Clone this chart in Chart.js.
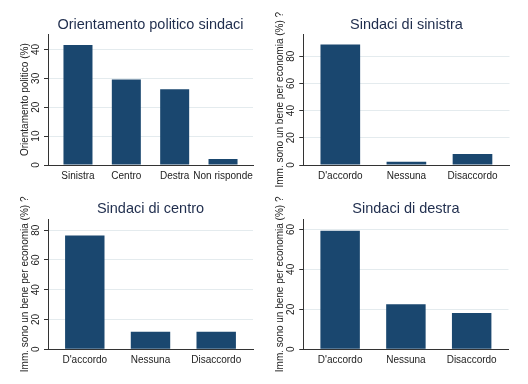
<!DOCTYPE html>
<html>
<head>
<meta charset="utf-8">
<script src="https://cdn.jsdelivr.net/npm/chart.js@4/dist/chart.umd.min.js"></script>
<style>
  html, body { margin: 0; padding: 0; background: #fff; }
  #wrap { position: relative; width: 528px; height: 384px; }
  .cell { position: absolute; width: 264px; height: 192px; }
</style>
</head>
<body>
<div id="wrap">
  <div class="cell" style="left:0;top:0"><canvas id="c1" width="264" height="192"></canvas></div>
  <div class="cell" style="left:264px;top:0"><canvas id="c2" width="264" height="192"></canvas></div>
  <div class="cell" style="left:0;top:192px"><canvas id="c3" width="264" height="192"></canvas></div>
  <div class="cell" style="left:264px;top:192px"><canvas id="c4" width="264" height="192"></canvas></div>
</div>
<script>
// data (percent)
const orientLabels = ["Sinistra", "Centro", "Destra", "Non risponde"];
const orientValues = [41.5, 29.6, 26.2, 2.1];
const orientTicks = [0, 10, 20, 30, 40];

const opinionLabels = ["D'accordo", "Nessuna", "Disaccordo"];
const sinistraValues = [88.5, 2.3, 8.0];
const centroValues = [76.4, 11.8, 11.8];
const destraValues = [59.3, 22.5, 18.2];
const opinionTicks = [0, 20, 40, 60, 80];
const destraTicks = [0, 20, 40, 60];

const immTitle = "Imm. sono un bene per economia (%) ?";

const navy = "#1a476f";
const textColor = "#222";
const axisColor = "#333";
const gridColor = "#e4ebee";
const family = "'Liberation Sans', Arial, sans-serif";

function drawPanel(id, title, yTitle, labels, values, ticks, yMax, box) {
  const n = labels.length;
  const pad = n === 4 ? 0.62 : 0.56;
  new Chart(id, {
    type: "bar",
    data: {
      datasets: [{
        data: values.map((v, i) => ({ x: i, y: v })),
        backgroundColor: navy,
        borderWidth: 0,
        barPercentage: 0.6,
        categoryPercentage: 1
      }]
    },
    options: {
      responsive: false,
      animation: false,
      devicePixelRatio: 1,
      layout: { padding: { left: 0, right: box.right, top: 0, bottom: 0 } },
      plugins: {
        legend: { display: false },
        tooltip: { enabled: false },
        title: {
          display: true,
          text: title,
          fullSize: false,
          color: "#1f2d4d",
          font: { family: family, size: 14.5, weight: "normal" },
          padding: { top: box.titleTop, bottom: box.titleBottom }
        }
      },
      scales: {
        x: {
          type: "linear",
          offset: false,
          min: -pad,
          max: n - 1 + pad,
          afterBuildTicks: s => { s.ticks = labels.map((l, i) => ({ value: i })); },
          afterFit: s => { s.height = box.xHeight; },
          ticks: {
            callback: v => labels[v],
            autoSkip: false,
            maxRotation: 0,
            color: textColor,
            font: { family: family, size: 10 },
            padding: 5
          },
          grid: { drawOnChartArea: false, drawTicks: false },
          border: { color: axisColor }
        },
        y: {
          min: 0,
          max: yMax,
          afterBuildTicks: s => { s.ticks = ticks.map(v => ({ value: v })); },
          afterFit: s => { s.width = box.yWidth; },
          ticks: {
            minRotation: 90,
            maxRotation: 90,
            crossAlign: "center",
            padding: 2,
            color: textColor,
            font: { family: family, size: 10 }
          },
          grid: {
            color: ctx => (ctx.tick && ctx.tick.value === 0) ? "rgba(0,0,0,0)" : gridColor,
            tickColor: axisColor,
            tickLength: 4
          },
          border: { color: axisColor },
          title: {
            display: true,
            text: yTitle,
            color: textColor,
            font: { family: family, size: 10 },
            padding: { top: box.yTitleTop, bottom: 0 }
          }
        }
      }
    }
  });
}

drawPanel("c1", "Orientamento politico sindaci", "Orientamento politico (%)",
  orientLabels, orientValues, orientTicks, 45.2,
  { right: 11, xHeight: 27, yWidth: 48, titleTop: 16, titleBottom: 1, yTitleTop: 19 });
drawPanel("c2", "Sindaci di sinistra", immTitle,
  opinionLabels, sinistraValues, opinionTicks, 96,
  { right: 18.5, xHeight: 27, yWidth: 39.3, titleTop: 16, titleBottom: 1, yTitleTop: 10 });
drawPanel("c3", "Sindaci di centro", immTitle,
  opinionLabels, centroValues, opinionTicks, 87.2,
  { right: 11, xHeight: 34.7, yWidth: 48, titleTop: 8, titleBottom: 2, yTitleTop: 19 });
drawPanel("c4", "Sindaci di destra", immTitle,
  opinionLabels, destraValues, destraTicks, 65,
  { right: 19.5, xHeight: 34.7, yWidth: 39.3, titleTop: 8, titleBottom: 2, yTitleTop: 10 });
</script>
</body>
</html>
